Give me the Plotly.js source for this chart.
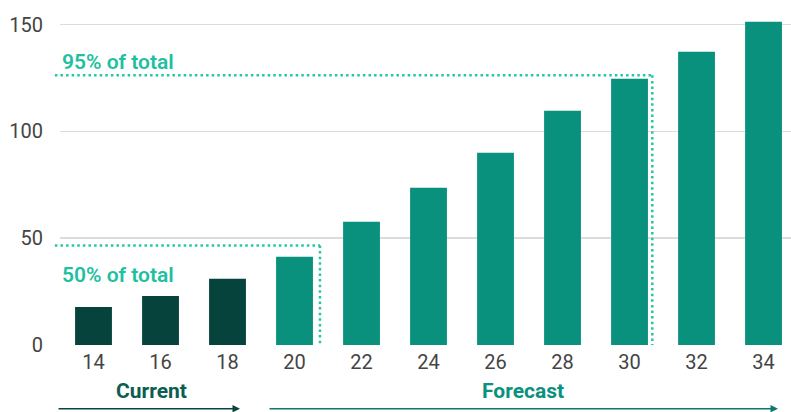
<!DOCTYPE html>
<html>
<head>
<meta charset="utf-8">
<script src="https://cdn.plot.ly/plotly-3.0.1.min.js"></script>
<style>html,body{margin:0;padding:0;background:#fff;}#chart{width:791px;height:412px;}</style>
</head>
<body>
<div id="chart"></div>
<script>
var years = [14, 16, 18, 20, 22, 24, 26, 28, 30, 32, 34];
var values = [17.8, 23, 31, 41.3, 57.7, 73.6, 90, 109.7, 124.7, 137.3, 151.4];
var phase = ['current','current','current','forecast','forecast','forecast','forecast','forecast','forecast','forecast','forecast'];
var yTicks = [0, 50, 100, 150];
var level50 = 46.6, level95 = 126.3;
var cut50 = 20.76, cut95 = 30.68;

var colors = phase.map(function(p){ return p === 'current' ? '#06433c' : '#0a917e'; });
var font = "Roboto, 'Noto Sans', sans-serif";
var dotLine = {color:'#22c7a6', width:2.5, dash:'2.5px,3.1px'};

var trace = {
  type:'bar', x:years, y:values, width:1.1,
  marker:{color:colors, line:{width:0}},
  hoverinfo:'skip'
};

var layout = {
  width:791, height:412,
  margin:{l:60, r:0, t:14, b:66.5},
  paper_bgcolor:'#fff', plot_bgcolor:'#fff',
  showlegend:false,
  font:{family:font, size:20, color:'#444'},
  xaxis:{
    range:[13, 34.82], tickvals:years, ticktext:years.map(String),
    showgrid:false, zeroline:false, showline:false, ticks:'',
    ticklabelstandoff:3, tickfont:{size:20, color:'#444', family:font}
  },
  yaxis:{
    range:[0, 155], tickvals:yTicks, ticktext:yTicks.map(String),
    showgrid:true, gridcolor:'#dcdcdc', gridwidth:1.5,
    zeroline:true, zerolinecolor:'#ffffff', zerolinewidth:2,
    showline:false, ticks:'', ticklabelstandoff:16,
    tickfont:{size:20, color:'#444', family:font}
  },
  shapes:[
    {type:'line', xref:'paper', yref:'y', x0:-0.007, x1:(320-60)/731, y0:level50, y1:level50, line:dotLine},
    {type:'line', xref:'x', yref:'y', x0:cut50, x1:cut50, y0:level50, y1:0, line:dotLine},
    {type:'line', xref:'paper', yref:'y', x0:-0.007, x1:(652.3-60)/731, y0:level95, y1:level95, line:dotLine},
    {type:'line', xref:'x', yref:'y', x0:cut95, x1:cut95, y0:level95, y1:0, line:dotLine}
  ],
  annotations:[
    {xref:'paper', yref:'y', x:0.0, y:132.6, xanchor:'left', yanchor:'middle', showarrow:false,
     text:'95% of total', font:{family:font, size:21, color:'#1fc0a0', weight:600}},
    {xref:'paper', yref:'y', x:0.0, y:33.0, xanchor:'left', yanchor:'middle', showarrow:false,
     text:'50% of total', font:{family:font, size:21, color:'#1fc0a0', weight:600}},
    {xref:'paper', yref:'paper', x:0.1254, y:-0.139, xanchor:'center', yanchor:'middle', showarrow:false,
     text:'Current', font:{family:font, size:21, color:'#0b5e50', weight:700}},
    {xref:'paper', yref:'paper', x:0.6334, y:-0.139, xanchor:'center', yanchor:'middle', showarrow:false,
     text:'Forecast', font:{family:font, size:21, color:'#0a917e', weight:700}},
    {xref:'paper', yref:'paper', x:(240-60)/731, y:-0.1923, ax:-183, ay:0, axref:'pixel', ayref:'pixel',
     showarrow:true, arrowhead:2, arrowsize:1, arrowwidth:1.5, arrowcolor:'#07453d', text:''},
    {xref:'paper', yref:'paper', x:(778-60)/731, y:-0.1923, ax:-510, ay:0, axref:'pixel', ayref:'pixel',
     showarrow:true, arrowhead:2, arrowsize:1, arrowwidth:1.5, arrowcolor:'#0a7a6a', text:''}
  ]
};

Plotly.newPlot('chart', [trace], layout, {displayModeBar:false, staticPlot:true});
</script>
</body>
</html>
